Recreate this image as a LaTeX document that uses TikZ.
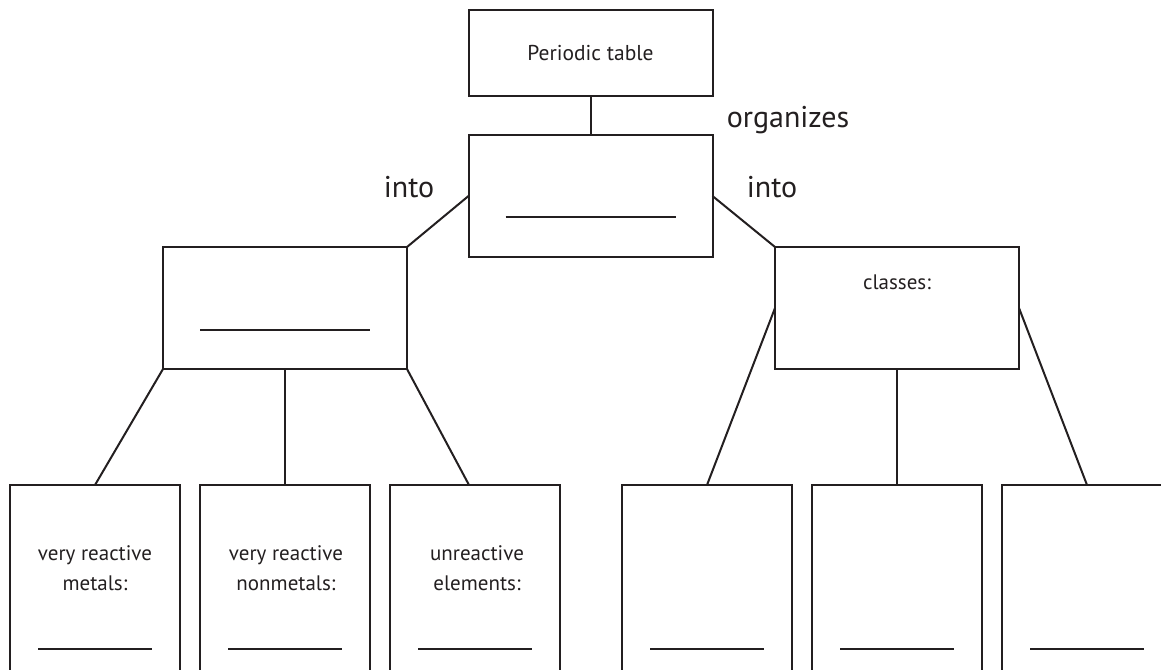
\documentclass[tikz,border=0pt]{standalone}
\usepackage{fontspec}
\setmainfont{PT Sans}
\usetikzlibrary{positioning,calc}
\definecolor{inkColor}{HTML}{231F20}
\tikzset{
	box/.style={draw=inkColor, inner sep=0, outer sep=0, minimum width=244, minimum height=122},
	leaf/.style={draw=inkColor, inner sep=0, outer sep=0, minimum width=170, minimum height=230},
	lbl/.style={text=inkColor, anchor=base, font=\fontsize{30}{36}\selectfont},
	txt/.style={text=inkColor, anchor=base, align=center, font=\fontsize{21}{30}\selectfont},
	blank/.style={draw=inkColor, line width=1.2pt}
}

\begin{document}
\begin{tikzpicture}[x=1pt, y=-1pt, line width=2pt, color=inkColor]
	\useasboundingbox (0,0) rectangle (1161,669);
	\node[box, minimum height=86, font=\fontsize{21.5}{26}\selectfont] (pt) at (590.5,53) {Periodic table};
	\node[box] (org) at (590.5,196) {};
	\node[box] (grp) at (285,308) {};
	\node[box] (cls) at (897,308) {};
	\node[leaf] (m1) at (95,600) {};
	\node[leaf, right=20 of m1] (m2) {};
	\node[leaf, right=20 of m2] (m3) {};
	\node[leaf] (c1) at (707,600) {};
	\node[leaf, right=20 of c1] (c2) {};
	\node[leaf, right=20 of c2] (c3) {};
	% labels on the links
	\node[lbl] (organizes) at (788,127) {organizes};
	\node[lbl] (intoL) at (409,197) {into};
	\node[lbl] (intoR) at (772,197) {into};
	% texts in the boxes
	\node[txt] (clsText) at (897,289) {classes:};
	\node[txt] (m1Text) at (95,590) {very reactive\\metals:};
	\node[txt] (m2Text) at (286,590) {very reactive\\nonmetals:};
	\node[txt] (m3Text) at (477,590) {unreactive\\elements:};
	% fill-in lines
	\draw[blank] ([shift={(-85,21)}]org.center) -- ([shift={(85,21)}]org.center);
	\draw[blank] ([shift={(-85,22)}]grp.center) -- ([shift={(85,22)}]grp.center);
	\foreach \n in {m1,m2,m3,c1,c2,c3}
		\draw[blank] ([shift={(-57,49)}]\n.center) -- ([shift={(57,49)}]\n.center);
	% links
	\path (pt) edge (org);
	\draw (org.west) -- (grp.north east);
	\draw (org.east) -- (cls.north west);
	\draw (grp.south west) -- (m1.north);
	\draw (grp.south) -- (m2.north);
	\draw (grp.south east) -- ([xshift=-6]m3.north);
	\draw (cls.west) -- (c1.north);
	\draw (cls.south) -- (c2.north);
	\draw (cls.east) -- (c3.north);
\end{tikzpicture}
\end{document}
